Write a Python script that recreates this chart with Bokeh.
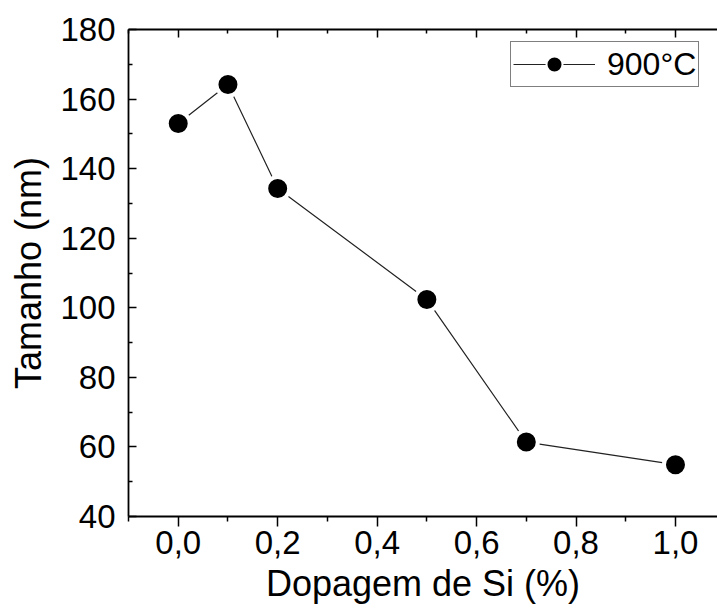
from bokeh.plotting import figure
from bokeh.models import (LinearAxis, Range1d, FixedTicker, CustomJSTickFormatter,
                          Legend, LegendItem, ColumnDataSource)
from bokeh.embed import file_html
from bokeh.resources import INLINE

# data
dopagem = [0.0, 0.1, 0.2, 0.5, 0.7, 1.0]
tamanho = [153.0, 164.2, 134.3, 102.4, 61.4, 54.9]
series_label = "900°C"
x_ticks = [0.0, 0.2, 0.4, 0.6, 0.8, 1.0]
x_minor = [-0.1, 0.1, 0.3, 0.5, 0.7, 0.9]
y_ticks = [40, 60, 80, 100, 120, 140, 160, 180]
y_minor = [50, 70, 90, 110, 130, 150, 170]

FONT = "Liberation Sans"

p = figure(width=717, height=610, output_backend="svg", toolbar_location=None,
           x_range=Range1d(-0.1, 1.0845), y_range=Range1d(40, 180),
           x_axis_location=None, y_axis_location=None,
           min_border_left=128, min_border_right=0, min_border_top=29,
           min_border_bottom=94)
p.outline_line_color = None
p.xgrid.visible = False
p.ygrid.visible = False
p.background_fill_color = "white"
p.border_fill_color = "white"

src = ColumnDataSource(dict(x=dopagem, y=tamanho))

ln = p.line("x", "y", source=src, line_color="#222222", line_width=1.2)
# legend-style marker, drawn underneath the main markers (hidden by them)
mk_leg = p.scatter("x", "y", source=src, size=17, fill_color="black",
                   line_color="white", line_width=2)
mk = p.scatter("x", "y", source=src, size=23, fill_color="black",
               line_color="white", line_width=4)

xfmt = CustomJSTickFormatter(code="return tick.toFixed(1).replace('.', ',');")

xb = LinearAxis(ticker=FixedTicker(ticks=x_ticks, minor_ticks=x_minor),
                formatter=xfmt, axis_label="Dopagem de Si (%)")
xb.major_tick_in = 0
xb.major_tick_out = 10
xb.minor_tick_in = 0
xb.minor_tick_out = 5
xb.major_label_standoff = 4
xb.axis_label_standoff = 6
p.add_layout(xb, "below")

xt = LinearAxis(ticker=FixedTicker(ticks=x_ticks, minor_ticks=x_minor),
                formatter=CustomJSTickFormatter(code="return '';"))
xt.major_tick_in = 8
xt.major_tick_out = 0
xt.minor_tick_in = 4
xt.minor_tick_out = 0
xt.major_label_standoff = 0
p.add_layout(xt, "above")

yl = LinearAxis(ticker=FixedTicker(ticks=y_ticks, minor_ticks=y_minor),
                axis_label="Tamanho (nm)")
yl.major_tick_in = 8
yl.major_tick_out = 0
yl.minor_tick_in = 4
yl.minor_tick_out = 0
yl.major_label_standoff = 13
yl.axis_label_standoff = 8
p.add_layout(yl, "left")

for ax in (xb, xt, yl):
    ax.axis_line_color = "black"
    ax.axis_line_width = 1.8
    ax.major_tick_line_color = "black"
    ax.major_tick_line_width = 1.5
    ax.minor_tick_line_color = "black"
    ax.minor_tick_line_width = 1.5
    ax.major_label_text_font = FONT
    ax.axis_label_text_font = FONT
    ax.axis_label_text_font_style = "normal"
    ax.major_label_text_color = "black"
    ax.axis_label_text_color = "black"
for ax in (xb, yl):
    ax.major_label_text_font_size = "33px"
    ax.axis_label_text_font_size = "36px"

legend = Legend(items=[LegendItem(label=series_label, renderers=[ln, mk_leg])],
                location=(382, 429))
legend.label_text_font = FONT
legend.label_text_font_size = "32px"
legend.label_text_color = "black"
legend.glyph_width = 82
legend.glyph_height = 40
legend.label_standoff = 12
legend.padding = 2
legend.margin = 0
legend.border_line_color = "black"
legend.border_line_width = 1.5
legend.background_fill_color = "white"
legend.background_fill_alpha = 1.0
p.add_layout(legend, "center")

open("out.html", "w").write(file_html(p, INLINE))
